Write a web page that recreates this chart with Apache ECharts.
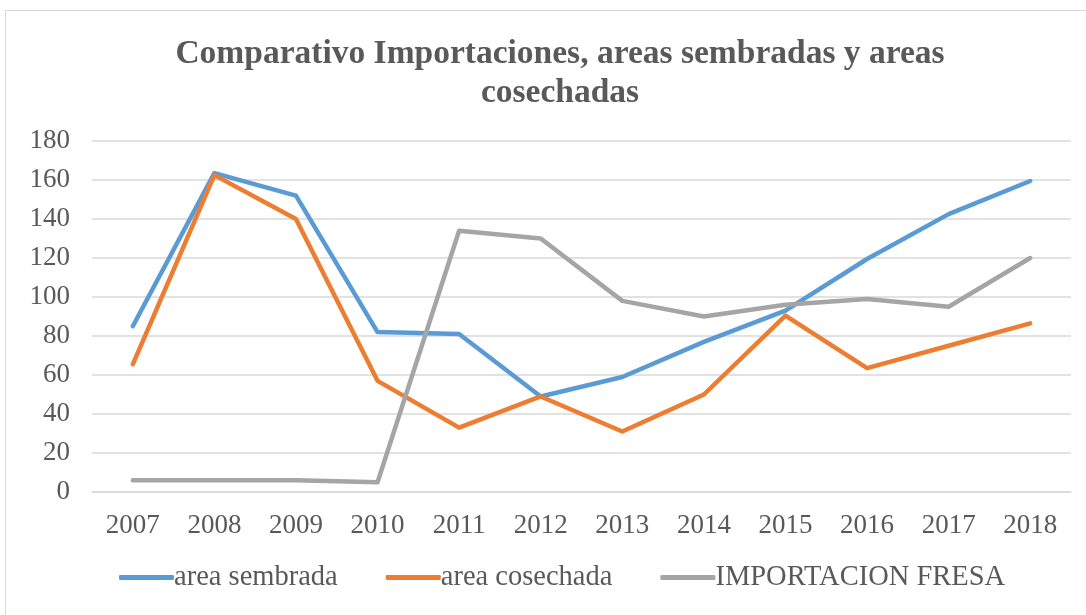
<!DOCTYPE html>
<html>
<head>
<meta charset="utf-8">
<script src="https://cdn.jsdelivr.net/npm/echarts@6/dist/echarts.min.js"></script>
<style>
  html, body { margin: 0; padding: 0; background: #fff; }
  #frame {
    position: absolute; left: 5px; top: 10px;
    width: 1095px; height: 620px;
    border: 1px solid #d9d9d9;
    box-sizing: border-box;
  }
  #chart { position: absolute; left: 0; top: 0; width: 1086px; height: 615px; }
</style>
</head>
<body>
<div id="frame"></div>
<div id="chart"></div>
<script>
// datos
const years = ['2007', '2008', '2009', '2010', '2011', '2012', '2013', '2014', '2015', '2016', '2017', '2018']
const areaSembrada = [85, 163.5, 152, 82, 81, 49, 59, 77, 93, 119.5, 142.5, 159.5]
const areaCosechada = [65.5, 162.5, 140, 57, 33, 49, 31, 50, 90.5, 63.5, 75, 86.5]
const importacionFresa = [6, 6, 6, 5, 134, 130, 98, 90, 96, 99, 95, 120]

const font = 'Liberation Serif'
const labelColor = '#595959'

const mkLine = (name, color, data) => ({
    name,
    type: 'line',
    data,
    symbol: 'none',
    color,
    lineStyle: { width: 4.5, color, cap: 'round', join: 'round' },
})

const chart = echarts.init(document.getElementById('chart'))
chart.setOption({
    animation: false,
    textStyle: { fontFamily: font },
    title: {
        text: 'Comparativo Importaciones, areas sembradas y areas\ncosechadas',
        left: 555,
        top: 30,
        textAlign: 'center',
        textStyle: {
            fontFamily: font,
            fontSize: 33.5,
            fontWeight: 'bold',
            color: labelColor,
            lineHeight: 39,
            align: 'center',
        },
    },
    legend: {
        bottom: 18,
        left: 114,
        itemWidth: 55,
        itemHeight: 5,
        itemGap: 48,
        icon: 'roundRect',
        textStyle: { fontFamily: font, fontSize: 28.5, color: labelColor, padding: [0, 0, 0, -5] },
        data: ['area sembrada', 'area cosechada', 'IMPORTACION FRESA'],
    },
    grid: { left: 92, right: 15, top: 141, bottom: 123 },
    xAxis: {
        type: 'category',
        data: years,
        axisTick: { show: false },
        axisLine: { show: true, lineStyle: { color: '#d9d9d9', width: 1.5 } },
        axisLabel: { fontFamily: font, fontSize: 27, color: labelColor, margin: 20 },
    },
    yAxis: {
        type: 'value',
        min: 0,
        max: 180,
        interval: 20,
        axisLine: { show: false },
        axisTick: { show: false },
        splitLine: { lineStyle: { color: '#d9d9d9', width: 1.5 } },
        axisLabel: { fontFamily: font, fontSize: 27, color: labelColor, margin: 22 },
    },
    series: [
        mkLine('area sembrada', '#5b9bd5', areaSembrada),
        mkLine('area cosechada', '#ed7d31', areaCosechada),
        mkLine('IMPORTACION FRESA', '#a5a5a5', importacionFresa),
    ],
})
</script>
</body>
</html>
